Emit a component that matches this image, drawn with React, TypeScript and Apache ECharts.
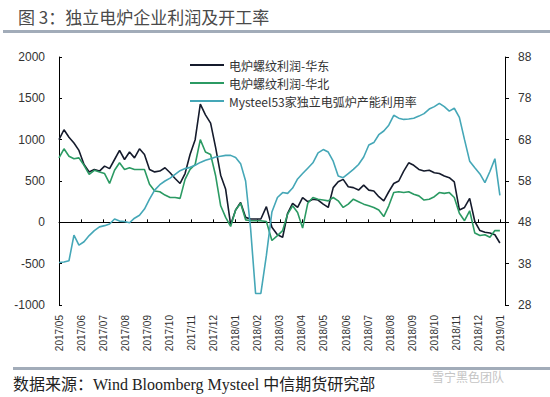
import React, { useEffect, useRef } from "react";
import * as echarts from "echarts";

// ---- data (weekly observations starting 2017-05-01) ----
const startDate = "2017-05-01";

const monthLabels = [
  "2017/05", "2017/06", "2017/07", "2017/08", "2017/09", "2017/10", "2017/11",
  "2017/12", "2018/01", "2018/02", "2018/03", "2018/04", "2018/05", "2018/06",
  "2018/07", "2018/08", "2018/09", "2018/10", "2018/11", "2018/12", "2019/01",
];

// 电炉螺纹利润-华东 (元/吨)
const profitEast = [
  1000, 1120, 1030, 960, 870, 700, 610, 640, 620, 680,
  650, 760, 870, 760, 850, 780, 890, 820, 640, 610,
  620, 660, 600, 530, 470, 590, 820, 1000, 1430, 1300,
  1200, 900, 570, 400, -30, 150, 240, 60, 40, 40,
  40, 190, -60, -150, -180, 110, 230, 180, 300, 250,
  280, 270, 220, 180, 420, 490, 520, 430, 420, 390,
  450, 390, 380, 310, 260, 370, 470, 500, 620, 720,
  690, 640, 620, 630, 600, 590, 560, 540, 490, 150,
  180, 290, 10, -100, -120, -130, -150, -250,
];

// 电炉螺纹利润-华北 (元/吨)
const profitNorth = [
  780, 890, 800, 770, 780, 690, 580, 630, 610, 590,
  470, 630, 720, 640, 660, 640, 640, 640, 460, 380,
  370, 330, 300, 300, 290, 520, 640, 700, 1000, 850,
  820, 560, 200, 60, -50, 150, 230, 30, 20, 20,
  20, 10, -220, -160, -100, 100, 200, 120, -70, 230,
  300, 280, 270, 260, 300, 260, 180, 220, 280, 250,
  220, 200, 180, 150, 70, 200, 360, 370, 360, 370,
  340, 320, 270, 280, 310, 360, 350, 360, 300, 110,
  20, 140, -130, -160, -150, -180, -100, -100,
];

// Mysteel53家独立电弧炉产能利用率 (%)
const utilization = [
  38.3, 38.4, 38.7, 44.9, 42.5, 43.3, 44.8, 46.0, 46.9, 47.2,
  47.6, 48.8, 48.3, 48.2, 47.9, 49.0, 49.7, 51.2, 53.6, 55.8,
  57.1, 58.0, 58.7, 59.6, 60.5, 61.0, 61.3, 61.8, 62.5, 63.0,
  63.4, 63.8, 64.0, 64.2, 64.2, 63.7, 62.2, 58.0, 46.5, 30.8,
  30.8, 40.0, 50.5, 54.0, 55.2, 55.0, 56.3, 58.5, 59.8, 61.1,
  62.4, 64.8, 65.6, 65.0, 62.8, 59.2, 58.8, 59.8, 60.8, 62.0,
  63.8, 66.7, 67.3, 69.2, 70.1, 71.5, 73.9, 73.2, 72.9, 73.0,
  73.2, 73.7, 74.3, 75.4, 76.0, 76.8, 76.0, 74.9, 75.6, 73.4,
  68.0, 62.8, 61.2, 59.7, 57.6, 60.3, 63.4, 54.5,
];

const seriesNames = ["电炉螺纹利润-华东", "电炉螺纹利润-华北", "Mysteel53家独立电弧炉产能利用率"];
const seriesColors = ["#151b2c", "#2b9a63", "#45a7b7"];

// ---- helpers ----
function weeklyDates(n: number): Date[] {
  const s = new Date(startDate + "T00:00:00Z").getTime();
  const out: Date[] = [];
  for (let i = 0; i < n; i++) out.push(new Date(s + i * 7 * 86400000));
  return out;
}

function monthIndex(d: Date): number {
  const y = d.getUTCFullYear();
  const m = d.getUTCMonth();
  const day = d.getUTCDate();
  const dim = new Date(Date.UTC(y, m + 1, 0)).getUTCDate();
  return (y - 2017) * 12 + (m - 4) + (day - 1) / dim;
}

function pairs(values: number[]) {
  const dates = weeklyDates(values.length);
  return values.map((v, i) => [monthIndex(dates[i]), v]);
}

export default function App() {
  const ref = useRef<HTMLDivElement>(null);

  useEffect(() => {
    if (!ref.current) return;
    const chart = echarts.init(ref.current, null, { renderer: "svg" });
    const xMax = 20.2;
    const option: any = {
      animation: false,
      backgroundColor: "#ffffff",
      grid: { left: 59, right: 45, top: 57, bottom: 92, containLabel: false },
      legend: {
        orient: "vertical",
        left: 185,
        top: 54,
        itemWidth: 34,
        itemHeight: 2,
        itemGap: 6,
        icon: "rect",
        textStyle: { fontSize: 12, color: "#333", fontFamily: "'Noto Sans CJK SC', sans-serif" },
        data: seriesNames,
      },
      xAxis: [
        {
          type: "value",
          min: 0,
          max: xMax,
          interval: 1,
          position: "bottom",
          axisLine: { show: false, onZero: false },
          axisTick: { show: false },
          splitLine: { show: false },
          axisLabel: {
            rotate: 90,
            margin: 10,
            fontSize: 10,
            color: "#333",
            fontFamily: "'Liberation Sans', Arial, sans-serif",
            formatter: (v: number) => {
              const i = Math.round(v);
              return Math.abs(v - i) < 1e-6 && monthLabels[i] ? monthLabels[i] : "";
            },
          },
        },
        {
          type: "value",
          min: 0,
          max: xMax,
          interval: 1,
          position: "top",
          axisLine: { show: true, onZero: true, onZeroAxisIndex: 0, lineStyle: { color: "#000", width: 1 } },
          axisTick: { show: true, inside: false, length: 3, lineStyle: { color: "#000" } },
          axisLabel: { show: false },
          splitLine: { show: false },
        },
      ],
      yAxis: [
        {
          type: "value",
          min: -1000,
          max: 2000,
          interval: 500,
          position: "left",
          axisLine: { show: true, onZero: false, lineStyle: { color: "#000", width: 1 } },
          axisTick: { show: true, inside: true, length: 3, lineStyle: { color: "#000" } },
          splitLine: { show: false },
          axisLabel: {
            fontSize: 12,
            color: "#333",
            margin: 14,
            fontFamily: "'Liberation Sans', Arial, sans-serif",
            formatter: (v: number) => String(v),
          },
        },
        {
          type: "value",
          min: 28,
          max: 88,
          interval: 10,
          position: "right",
          axisLine: { show: true, onZero: false, lineStyle: { color: "#000", width: 1 } },
          axisTick: { show: true, inside: false, length: 4, lineStyle: { color: "#000" } },
          splitLine: { show: false },
          axisLabel: {
            fontSize: 12,
            color: "#333",
            margin: 13,
            fontFamily: "'Liberation Sans', Arial, sans-serif",
            formatter: (v: number) => String(v),
          },
        },
      ],
      series: [
        {
          name: seriesNames[0],
          type: "line",
          xAxisIndex: 0,
          yAxisIndex: 0,
          data: pairs(profitEast),
          showSymbol: false,
          symbol: "none",
          lineStyle: { width: 1.6, color: seriesColors[0] },
          itemStyle: { color: seriesColors[0] },
        },
        {
          name: seriesNames[1],
          type: "line",
          xAxisIndex: 0,
          yAxisIndex: 0,
          data: pairs(profitNorth),
          showSymbol: false,
          symbol: "none",
          lineStyle: { width: 1.6, color: seriesColors[1] },
          itemStyle: { color: seriesColors[1] },
        },
        {
          name: seriesNames[2],
          type: "line",
          xAxisIndex: 0,
          yAxisIndex: 1,
          data: pairs(utilization),
          showSymbol: false,
          symbol: "none",
          lineStyle: { width: 1.6, color: seriesColors[2] },
          itemStyle: { color: seriesColors[2] },
        },
      ],
      graphic: [
        {
          type: "text",
          left: 18,
          top: 8,
          style: {
            text: "图 3：独立电炉企业利润及开工率",
            fontSize: 17,
            fill: "#4a4a4a",
            fontFamily: "'Noto Sans CJK SC', sans-serif",
          },
        },
        {
          type: "rect",
          shape: { x: 3, y: 30, width: 547, height: 3 },
          style: { fill: "#a2acb9" },
        },
        {
          type: "rect",
          shape: { x: 13, y: 367, width: 537, height: 3 },
          style: { fill: "#a2acb9" },
        },
        {
          type: "text",
          left: 13,
          top: 376,
          style: {
            text: "数据来源：Wind Bloomberg Mysteel 中信期货研究部",
            fontSize: 16,
            fill: "#222",
            fontFamily: "'Liberation Serif', 'Noto Sans CJK SC', serif",
          },
        },
        {
          type: "text",
          left: 432,
          top: 370,
          style: {
            text: "雪宁黑色团队",
            fontSize: 12,
            fill: "#c4c4c4",
            fontFamily: "'Noto Sans CJK SC', sans-serif",
          },
        },
      ],
    };
    chart.setOption(option);
    return () => chart.dispose();
  }, []);

  return (
    <div
      ref={ref}
      style={{ position: "absolute", left: 0, top: 0, width: 550, height: 397, background: "#fff" }}
    />
  );
}
